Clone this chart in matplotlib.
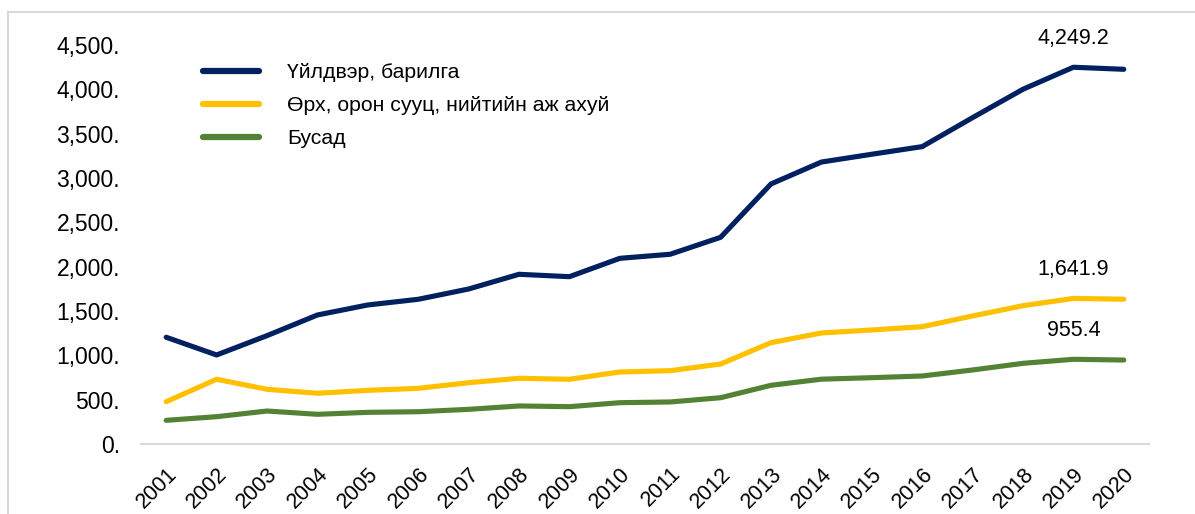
import matplotlib
matplotlib.use("Agg")
import matplotlib.pyplot as plt
from matplotlib.patches import Rectangle

plt.rcParams['font.family'] = ['Liberation Sans', 'DejaVu Sans']

years = [str(y) for y in range(2001, 2021)]
industry = [1204, 1004, 1222, 1455, 1568, 1632, 1748, 1914, 1887, 2094,
            2140, 2331, 2933, 3180, 3268, 3354, 3681, 4001, 4249.2, 4226]
household = [477, 730, 617, 572, 605, 628, 691, 741, 730, 812,
             827, 902, 1143, 1252, 1286, 1323, 1444, 1560, 1641.9, 1633]
other = [267, 308, 372, 335, 357, 364, 391, 429, 421, 466,
         474, 522, 662, 731, 748, 767, 835, 910, 955.4, 947]
labels = ["Үйлдвэр, барилга", "Өрх, орон сууц, нийтийн аж ахуй", "Бусад"]
colors = ["#002060", "#FFC000", "#548235"]
yticks = list(range(0, 4501, 500))

W, H = 1195, 514
fig = plt.figure(figsize=(W / 100, H / 100), dpi=100)
fig.patches.append(Rectangle((8 / W, -0.2), 1.5, 1.2 - 12 / H, transform=fig.transFigure,
                             fill=False, edgecolor="#d9d9d9", linewidth=1.5))
ax = fig.add_axes([141 / W, 1 - 444 / H, (1149 - 141) / W, (444 - 45) / H])

x = list(range(len(years)))
series = [industry, household, other]
for s, lab, c in zip(series, labels, colors):
    ax.plot(x, s, color=c, lw=3.7, label=lab, solid_capstyle='round', solid_joinstyle='round')

idx = years.index("2019")
for s in series:
    ax.annotate(f"{s[idx]:,.1f}", (x[idx], s[idx]), xytext=(0, 21), textcoords="offset points",
                ha="center", va="center", fontsize=15.5, color="#000000")

ax.set_xlim(-0.5, len(years) - 0.5)
ax.set_ylim(0, 4500)
ax.set_yticks(yticks)
ax.set_yticklabels([f"{v:,}." for v in yticks], fontsize=16.5)
ax.set_xticks(x)
ax.set_xticklabels(years, fontsize=15.5, rotation=45, ha="right", va="top", rotation_mode="anchor")
ax.tick_params(axis="y", length=0, pad=15)
ax.tick_params(axis="x", length=0, pad=14)
for sp in ["top", "right", "left"]:
    ax.spines[sp].set_visible(False)
ax.spines["bottom"].set_color("#d9d9d9")
ax.spines["bottom"].set_linewidth(1.5)

leg = ax.legend(loc="upper left", bbox_to_anchor=(203 / W, 1 - 63 / H), bbox_transform=fig.transFigure,
                frameon=False, fontsize=15.3, handlelength=2.65, handletextpad=1.3,
                labelspacing=0.66, borderpad=0, borderaxespad=0)
for ln in leg.get_lines():
    ln.set_linewidth(4.5)
    ln.set_solid_capstyle('round')

fig.savefig("out.png", dpi=100)
